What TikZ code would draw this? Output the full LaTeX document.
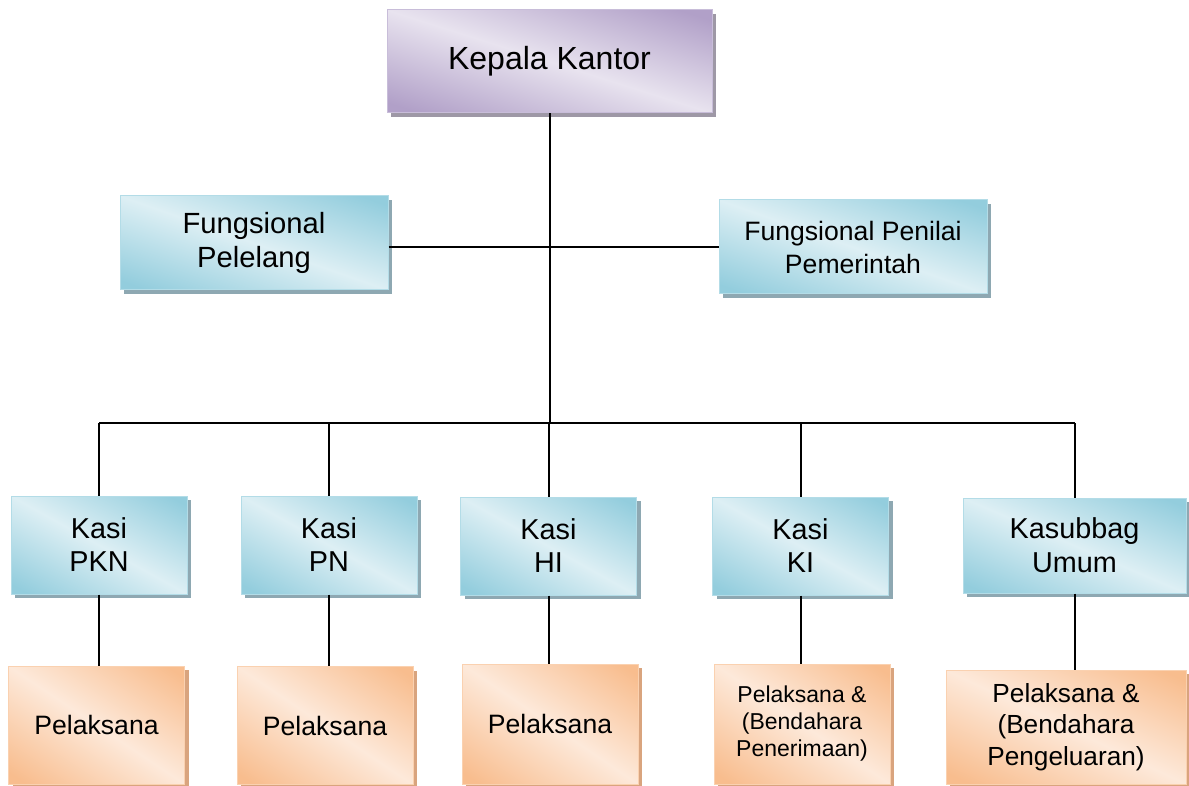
\documentclass[tikz,border=0pt]{standalone}
\usepackage{fontspec}
\setmainfont{Liberation Sans}
\usetikzlibrary{shadows}

\definecolor{kepaladark}{HTML}{B1A0C8}
\definecolor{kepalashadow}{HTML}{9E98A6}
\definecolor{kasidark}{HTML}{93CDDD}
\definecolor{kasishadow}{HTML}{8EA8B2}
\definecolor{pelakdark}{HTML}{F8BD8E}
\definecolor{pelakshadow}{HTML}{D9A47E}

% light band along the main diagonal, darker towards top-right and bottom-left
\pgfdeclarefunctionalshading{kepalashade}{\pgfpointorigin}{\pgfpoint{100bp}{100bp}}{}{
    add 100 sub abs 45 div dup 1 gt {pop 1} if
    dup -0.216 mul 0.910 add exch dup -0.263 mul 0.890 add exch -0.153 mul 0.937 add
}
\pgfdeclarefunctionalshading{kasishade}{\pgfpointorigin}{\pgfpoint{100bp}{100bp}}{}{
    add 100 sub abs 45 div dup 1 gt {pop 1} if
    dup -0.291 mul 0.867 add exch dup -0.133 mul 0.937 add exch -0.090 mul 0.957 add
}
\pgfdeclarefunctionalshading{pelakshade}{\pgfpointorigin}{\pgfpoint{100bp}{100bp}}{}{
    add 100 sub abs 45 div dup 1 gt {pop 1} if
    dup -0.019 mul 0.992 add exch dup -0.173 mul 0.914 add exch -0.298 mul 0.855 add
}

\tikzset{
    unit/.style={draw=#1dark!70!white, line width=0.5pt, shade, shading=#1shade,
        align=center, inner sep=0pt,
        drop shadow={shadow xshift=2pt, shadow yshift=-2pt, fill=#1shadow, opacity=1}},
    link/.style={-, line width=1pt},
}

\begin{document}
\begin{tikzpicture}[x=0.5pt, y=-0.5pt]
                \useasboundingbox (0,0) rectangle (1189,786);
                % top
                \node[unit=kepala, minimum width=162.5pt, minimum height=51.5pt,
                    font=\fontsize{16}{19}\selectfont] (kepala) at (549.5,61.5) {Kepala Kantor};
                \node[unit=kasi, minimum width=134pt, minimum height=47pt,
                    font=\fontsize{14.6}{17}\selectfont] (pelelang) at (254,243) {Fungsional\\Pelelang};
                \node[unit=kasi, minimum width=134pt, minimum height=47pt,
                    font=\fontsize{13.3}{16.5}\selectfont] (penilai) at (853,247) {Fungsional Penilai\\Pemerintah};
                % kasi
                \tikzset{kasi/.style={unit=kasi, minimum width=88pt, minimum height=49pt,
                    font=\fontsize{14.4}{16.5}\selectfont}}
                \node[kasi] (pkn) at (99,545) {Kasi\\PKN};
                \node[kasi] (pn) at (329,545) {Kasi\\PN};
                \node[kasi] (hi) at (548.5,546) {Kasi\\HI};
                \node[kasi] (ki) at (800.5,546) {Kasi\\KI};
                \node[kasi, minimum width=111.5pt, minimum height=47.5pt,
                    font=\fontsize{14.4}{17}\selectfont] (umum) at (1074.5,545.5) {Kasubbag\\Umum};
                % pelaksana
                \tikzset{pelak/.style={unit=pelak, minimum width=88pt, minimum height=59pt,
                    font=\fontsize{13.3}{16}\selectfont}}
                \node[pelak] (pel1) at (96.5,725) {Pelaksana};
                \node[pelak] (pel2) at (325,725.5) {Pelaksana};
                \node[pelak, minimum height=60pt] (pel3) at (550,724) {Pelaksana};
                \node[pelak, minimum height=60pt, font=\fontsize{11.5}{13.5}\selectfont]
                    (pel4) at (802,724) {Pelaksana \&\\(Bendahara\\Penerimaan)};
                \node[pelak, minimum width=120pt, minimum height=57pt,
                    font=\fontsize{13.1}{15.75}\selectfont]
                    (pel5) at (1066,727) {Pelaksana \&\\(Bendahara\\Pengeluaran)};
                % lines
                \coordinate (bus) at (549.5,423);
                \draw[link] (kepala.south) -- (kepala.south |- bus);
                \draw[link] (pelelang.east |- penilai.west) -- (penilai.west);
                \draw[link] (pkn.north |- bus) -- (umum.north |- bus);
                \foreach \k/\p in {pkn/pel1, pn/pel2, hi/pel3, ki/pel4, umum/pel5} {
                    \draw[link] (\k.north) -- (\k.north |- bus);
                    \draw[link] (\k.south) -- (\k.south |- \p.north);
                }
            \end{tikzpicture}
\end{document}
